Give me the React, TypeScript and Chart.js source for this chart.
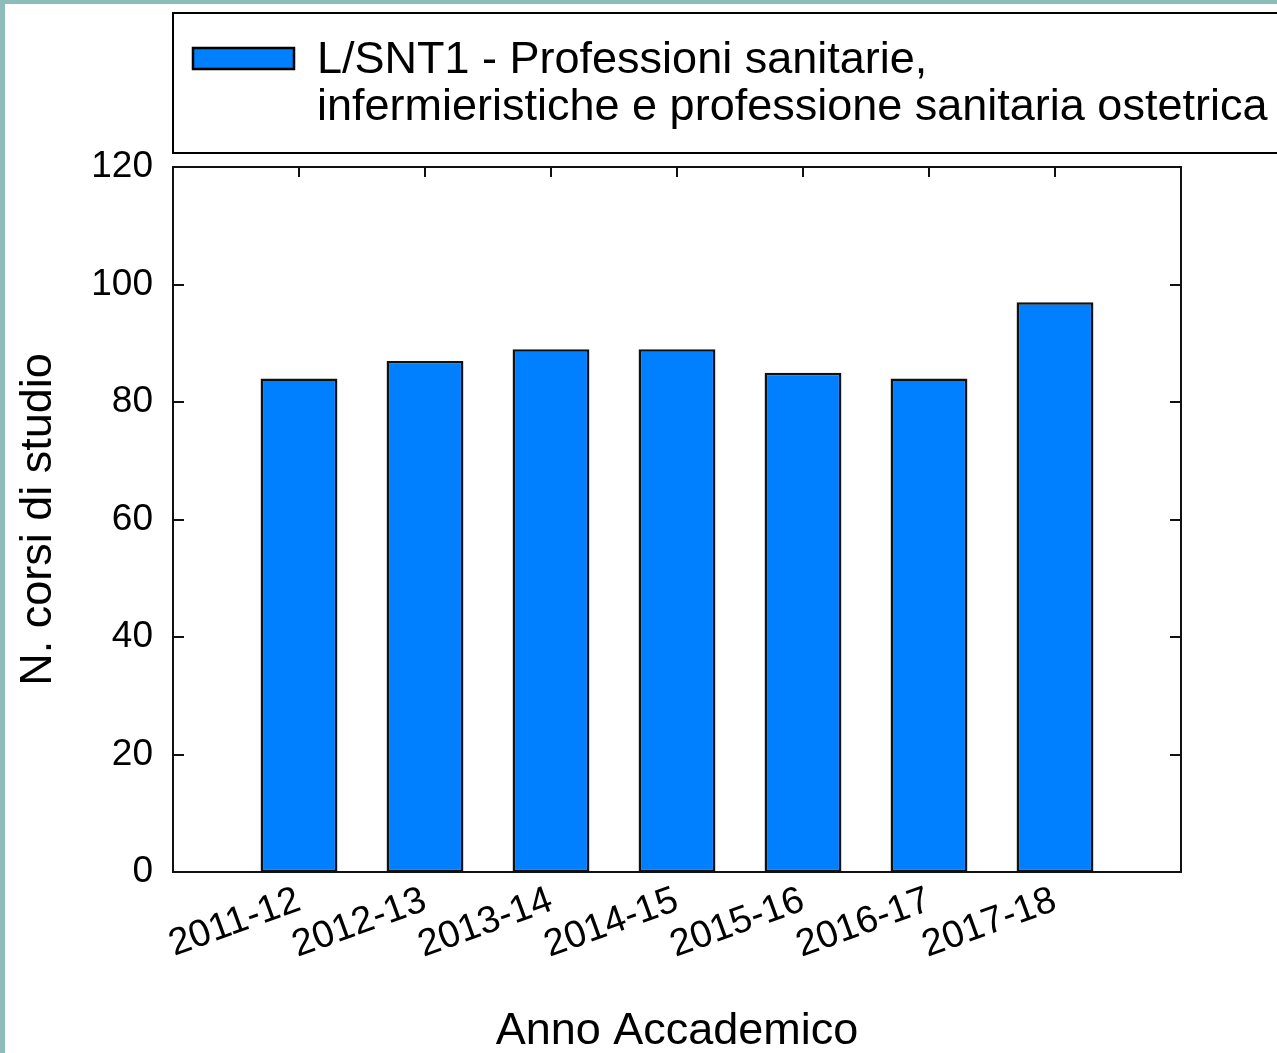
import React, { useEffect, useRef } from 'react';
import { Chart, registerables } from 'chart.js';

Chart.register(...registerables);

// ---- data ----
const categories = ['2011-12', '2012-13', '2013-14', '2014-15', '2015-16', '2016-17', '2017-18'];
const corsi = [84, 87, 89, 89, 85, 84, 97];
const yTickValues = [0, 20, 40, 60, 80, 100, 120];
const legendLines = ['L/SNT1 - Professioni sanitarie,', 'infermieristiche e professione sanitaria ostetrica'];
const seriesLabel = legendLines.join(' ');
const xTitle = 'Anno Accademico';
const yTitle = 'N. corsi di studio';

// ---- styling ----
const FONT = '"Liberation Sans", Arial, Helvetica, sans-serif';
const BAR_BLUE = '#0080ff';
const TEAL = '#8cbdb9';
const W = 1277;
const H = 1053;

// padded category labels: empty slot at each end, as in the reference
const xLabels = ['', ...categories, ''];
const xData = [null, ...corsi, null];

const framePlugin = {
  id: 'frameAndLegend',
  beforeDraw(chart: any) {
    const { ctx } = chart;
    ctx.save();
    ctx.fillStyle = '#ffffff';
    ctx.fillRect(0, 0, W, H);
    ctx.fillStyle = TEAL;
    ctx.fillRect(0, 0, 5, H);
    ctx.fillRect(0, 0, W, 4);
    ctx.restore();
  },
  afterDraw(chart: any) {
    const { ctx, chartArea } = chart;
    const { left, right, top, bottom } = chartArea;
    const xs = chart.scales.x;
    const ys = chart.scales.y;
    ctx.save();
    ctx.strokeStyle = '#111111';
    ctx.lineWidth = 2;
    ctx.strokeRect(left, top, right - left, bottom - top);
    // inward ticks
    ctx.beginPath();
    for (let i = 1; i <= categories.length; i++) {
      const x = Math.round(xs.getPixelForValue(i));
      ctx.moveTo(x, top);
      ctx.lineTo(x, top + 10);
    }
    for (const v of yTickValues) {
      const y = Math.round(ys.getPixelForValue(v));
      ctx.moveTo(left, y);
      ctx.lineTo(left + 11, y);
      ctx.moveTo(right, y);
      ctx.lineTo(right - 11, y);
    }
    ctx.stroke();

    // legend box
    ctx.strokeStyle = '#000000';
    ctx.strokeRect(left, 13, W - left + 20, 140);
    ctx.fillStyle = BAR_BLUE;
    ctx.fillRect(193, 48, 101, 21);
    ctx.lineWidth = 2.5;
    ctx.strokeRect(193, 48, 101, 21);
    ctx.fillStyle = '#000000';
    ctx.font = `45px ${FONT}`;
    ctx.textBaseline = 'alphabetic';
    ctx.textAlign = 'left';
    legendLines.forEach((line, i) => {
      ctx.fillText(line, 317, 73 + i * 47);
    });
    ctx.restore();
  },
};

export default function App() {
  const ref = useRef<HTMLCanvasElement | null>(null);

  useEffect(() => {
    if (!ref.current) return;
    const chart = new Chart(ref.current, {
      type: 'bar',
      data: {
        labels: xLabels,
        datasets: [
          {
            label: seriesLabel,
            data: xData as any,
            backgroundColor: BAR_BLUE,
            borderColor: '#111111',
            borderWidth: 2.5,
            borderSkipped: false,
            barPercentage: 0.61,
            categoryPercentage: 1,
          },
        ],
      },
      options: {
        animation: false,
        responsive: false,
        devicePixelRatio: 1,
        layout: { padding: { top: 167, right: 96, left: 0, bottom: 0 } },
        plugins: {
          legend: { display: false },
          tooltip: { enabled: false },
        },
        scales: {
          x: {
            type: 'category',
            offset: false,
            grid: { display: false, drawTicks: false },
            border: { display: false },
            ticks: {
              autoSkip: false,
              maxRotation: 20,
              minRotation: 20,
              padding: 6,
              color: '#000000',
              font: { family: FONT, size: 38 },
            },
            title: {
              display: true,
              text: xTitle,
              color: '#000000',
              font: { family: FONT, size: 45, lineHeight: 1.2 },
              padding: { top: 0, bottom: -6 },
            },
            afterFit(scale: any) {
              scale.height = 181;
            },
          },
          y: {
            min: 0,
            max: 120,
            grid: { display: false, drawTicks: false },
            border: { display: false },
            ticks: {
              stepSize: 20,
              padding: 20,
              color: '#000000',
              font: { family: FONT, size: 37 },
            },
            title: {
              display: true,
              text: yTitle,
              color: '#000000',
              font: { family: FONT, size: 45, lineHeight: 1.2 },
              padding: { top: 12, bottom: 0 },
            },
            afterFit(scale: any) {
              scale.width = 173;
            },
          },
        },
      },
      plugins: [framePlugin],
    });
    return () => chart.destroy();
  }, []);

  return (
    <div style={{ position: 'absolute', left: 0, top: 0, width: W, height: H }}>
      <canvas ref={ref} width={W} height={H} style={{ display: 'block', width: W, height: H }} />
    </div>
  );
}
